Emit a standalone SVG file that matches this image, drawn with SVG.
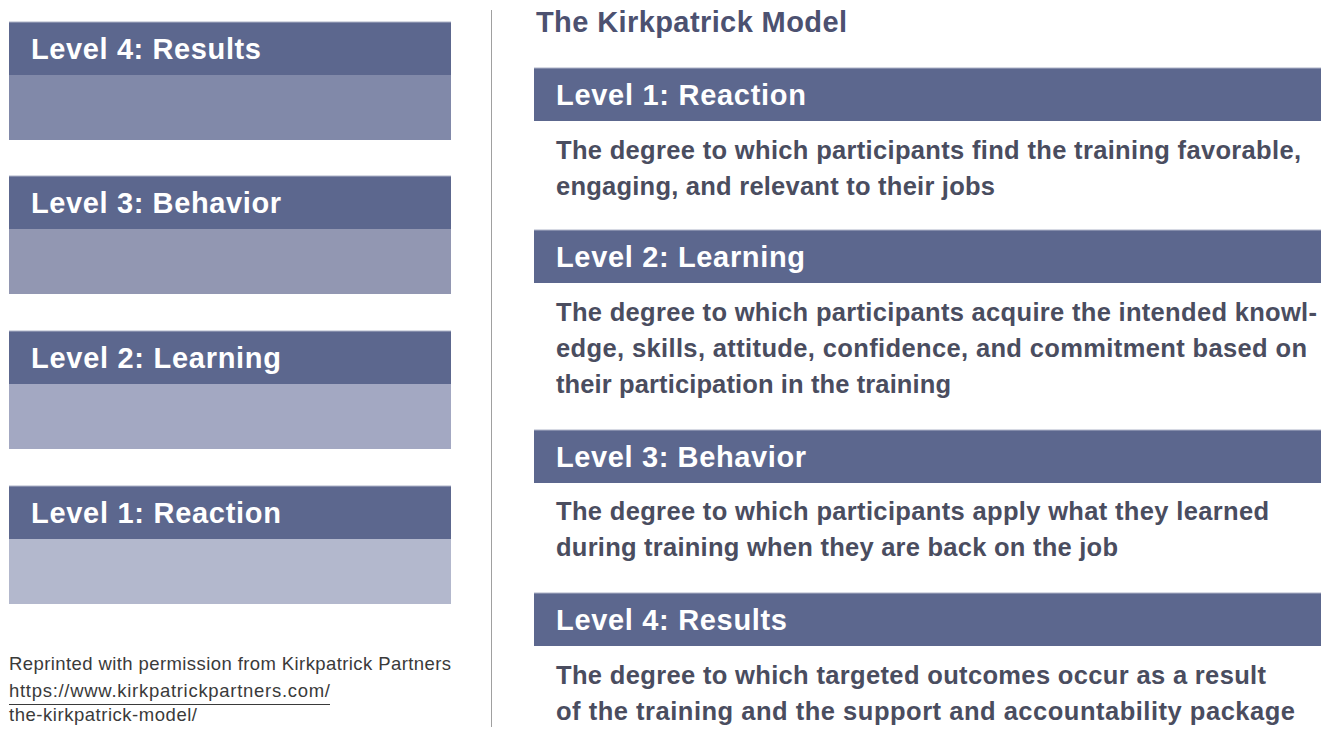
<svg xmlns="http://www.w3.org/2000/svg" width="1329" height="729" viewBox="0 0 1329 729">
  <style>
    .hdr { fill: #5c678e; }
    .hdr-edge { fill: #aeb3c8; }
    .hdr-text { font-family: "Liberation Sans", Arial, sans-serif; font-weight: bold; font-size: 29px; fill: #ffffff; }
    .title { font-family: "Liberation Sans", Arial, sans-serif; font-weight: bold; font-size: 29px; fill: #4c5170; }
    .body { font-family: "Liberation Sans", Arial, sans-serif; font-weight: bold; font-size: 25.5px; fill: #4a4d5f; }
    .note { font-family: "Liberation Sans", Arial, sans-serif; font-size: 18.5px; fill: #3a3a3a; }
  </style>

  <rect width="1329" height="729" fill="#ffffff"/>

  <!-- Left column: stacked pyramid of levels -->
  <g id="stack-level-4">
    <rect class="hdr" x="9" y="22" width="442" height="53"/>
    <rect class="hdr-edge" x="9" y="21.5" width="442" height="1"/>
    <rect x="9" y="75" width="442" height="65" fill="#8189a9"/>
    <text class="hdr-text" x="31" y="58.5" textLength="230" lengthAdjust="spacing">Level 4: Results</text>
  </g>
  <g id="stack-level-3">
    <rect class="hdr" x="9" y="176" width="442" height="53"/>
    <rect class="hdr-edge" x="9" y="175.5" width="442" height="1"/>
    <rect x="9" y="229" width="442" height="65" fill="#9297b2"/>
    <text class="hdr-text" x="31" y="212.5" textLength="250" lengthAdjust="spacing">Level 3: Behavior</text>
  </g>
  <g id="stack-level-2">
    <rect class="hdr" x="9" y="331" width="442" height="53"/>
    <rect class="hdr-edge" x="9" y="330.5" width="442" height="1"/>
    <rect x="9" y="384" width="442" height="65" fill="#a3a8c2"/>
    <text class="hdr-text" x="31" y="367.5" textLength="250" lengthAdjust="spacing">Level 2: Learning</text>
  </g>
  <g id="stack-level-1">
    <rect class="hdr" x="9" y="486" width="442" height="53"/>
    <rect class="hdr-edge" x="9" y="485.5" width="442" height="1"/>
    <rect x="9" y="539" width="442" height="65" fill="#b3b8cd"/>
    <text class="hdr-text" x="31" y="522.5" textLength="250" lengthAdjust="spacing">Level 1: Reaction</text>
  </g>

  <!-- Credit line -->
  <g id="credit">
    <text class="note" x="9" y="670" textLength="442" lengthAdjust="spacing">Reprinted with permission from Kirkpatrick Partners</text>
    <text class="note" x="9" y="697" textLength="321" lengthAdjust="spacing">https://www.kirkpatrickpartners.com/</text>
    <line x1="9" y1="704.5" x2="330" y2="704.5" stroke="#3a3a3a" stroke-width="1"/>
    <text class="note" x="9" y="721" textLength="188" lengthAdjust="spacing">the-kirkpatrick-model/</text>
  </g>

  <!-- Column divider -->
  <line id="divider" x1="491.5" y1="10" x2="491.5" y2="727" stroke="#a0a0a0" stroke-width="1"/>

  <!-- Right column: definitions -->
  <text id="title" class="title" x="536" y="32" textLength="311" lengthAdjust="spacing">The Kirkpatrick Model</text>

  <g id="def-level-1">
    <rect class="hdr" x="534" y="68" width="787" height="53"/>
    <rect class="hdr-edge" x="534" y="67.5" width="787" height="1"/>
    <text class="hdr-text" x="556" y="104.5" textLength="250" lengthAdjust="spacing">Level 1: Reaction</text>
    <text class="body" x="556" y="158.5" textLength="745" lengthAdjust="spacing">The degree to which participants find the training favorable,</text>
    <text class="body" x="556" y="194.5" textLength="439" lengthAdjust="spacing">engaging, and relevant to their jobs</text>
  </g>

  <g id="def-level-2">
    <rect class="hdr" x="534" y="230" width="787" height="53"/>
    <rect class="hdr-edge" x="534" y="229.5" width="787" height="1"/>
    <text class="hdr-text" x="556" y="266.5" textLength="249" lengthAdjust="spacing">Level 2: Learning</text>
    <text class="body" x="556" y="320.5" textLength="761" lengthAdjust="spacing">The degree to which participants acquire the intended knowl-</text>
    <text class="body" x="556" y="356.5" textLength="751" lengthAdjust="spacing">edge, skills, attitude, confidence, and commitment based on</text>
    <text class="body" x="556" y="392.5" textLength="395" lengthAdjust="spacing">their participation in the training</text>
  </g>

  <g id="def-level-3">
    <rect class="hdr" x="534" y="430" width="787" height="53"/>
    <rect class="hdr-edge" x="534" y="429.5" width="787" height="1"/>
    <text class="hdr-text" x="556" y="466.5" textLength="250" lengthAdjust="spacing">Level 3: Behavior</text>
    <text class="body" x="556" y="519.5" textLength="713" lengthAdjust="spacing">The degree to which participants apply what they learned</text>
    <text class="body" x="556" y="555.5" textLength="562" lengthAdjust="spacing">during training when they are back on the job</text>
  </g>

  <g id="def-level-4">
    <rect class="hdr" x="534" y="593" width="787" height="53"/>
    <rect class="hdr-edge" x="534" y="592.5" width="787" height="1"/>
    <text class="hdr-text" x="556" y="629.5" textLength="231" lengthAdjust="spacing">Level 4: Results</text>
    <text class="body" x="556" y="683.5" textLength="710" lengthAdjust="spacing">The degree to which targeted outcomes occur as a result</text>
    <text class="body" x="556" y="719.5" textLength="739" lengthAdjust="spacing">of the training and the support and accountability package</text>
  </g>
</svg>
